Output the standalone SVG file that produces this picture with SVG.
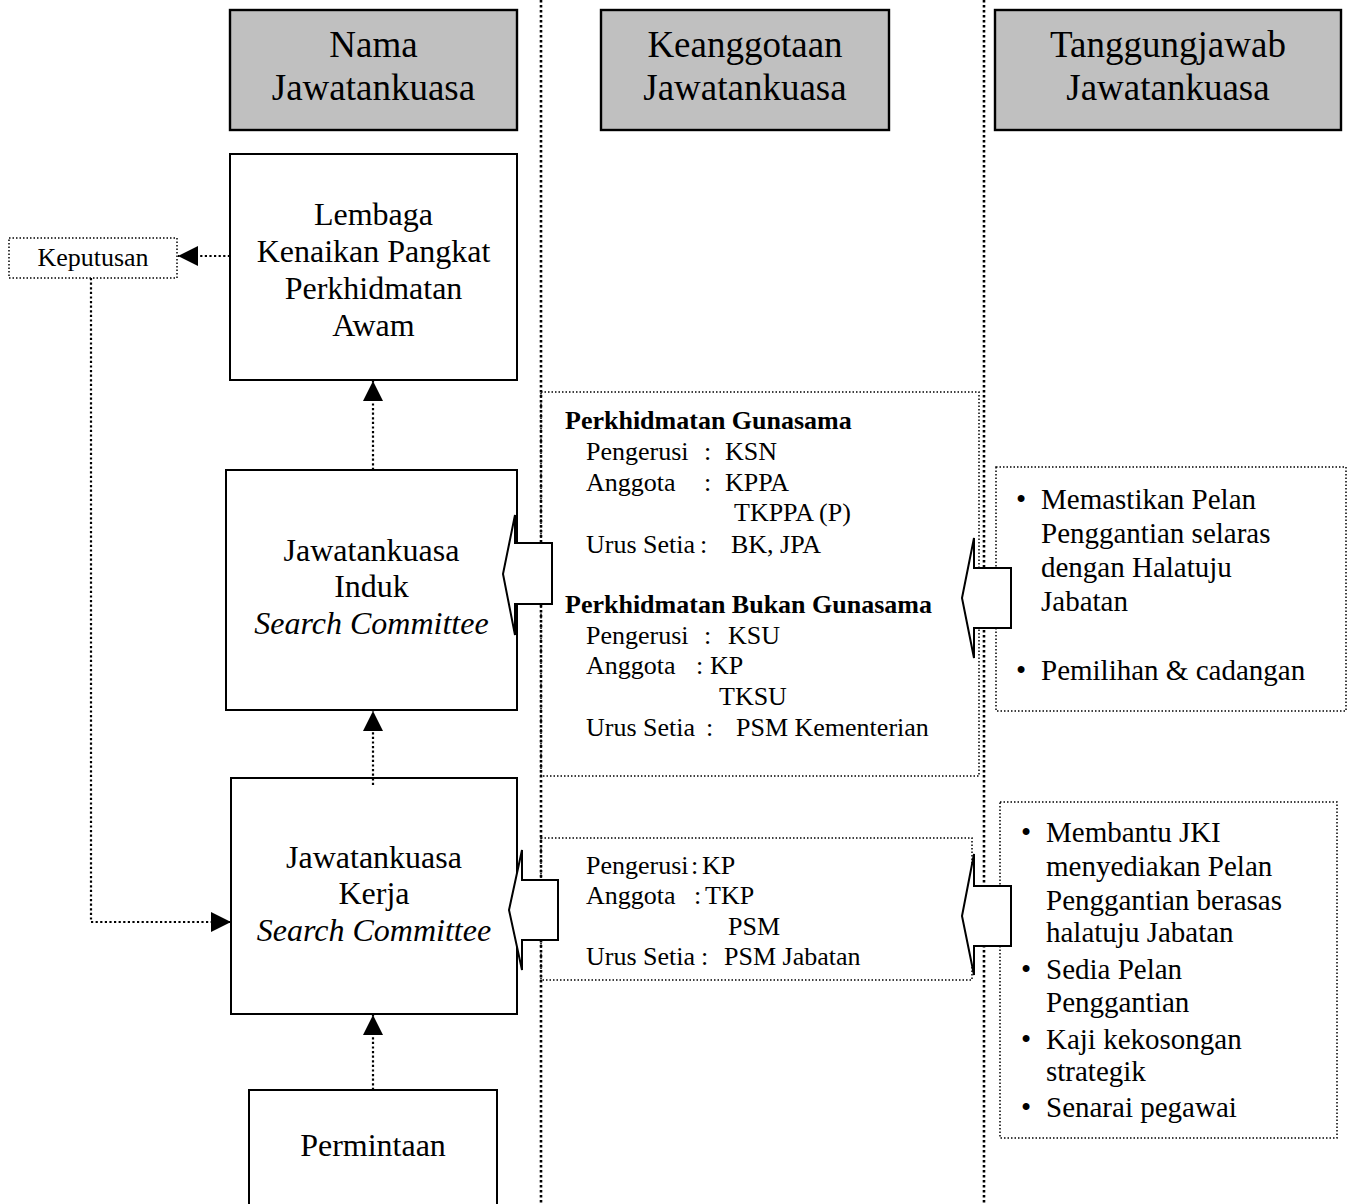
<svg xmlns="http://www.w3.org/2000/svg" width="1350" height="1204" viewBox="0 0 1350 1204">
<style>
text{font-family:"Liberation Serif","Times New Roman",serif;fill:#000}
.hd{font-size:37px;text-anchor:middle}
.bd{font-size:32px;text-anchor:middle}
.it{font-style:italic}
.md{font-size:26px}
.bo{font-weight:bold}
.rt{font-size:29px}
.bu{font-size:29px}
.hbox{fill:#c0c0c0;stroke:#000;stroke-width:2.4}
.box{fill:#fff;stroke:#000;stroke-width:2}
.div{fill:none;stroke:#000;stroke-width:2.6;stroke-dasharray:2.4 2.6}
.dbox{fill:none;stroke:#000;stroke-width:1.5;stroke-dasharray:1.5 2}
.con{fill:none;stroke:#000;stroke-width:2.2;stroke-dasharray:2.2 2.4}
.blk{fill:#fff;stroke:#000;stroke-width:2;stroke-linejoin:miter}
</style>
<defs>
<marker id="ah" viewBox="0 0 20 20" refX="20" refY="10" markerWidth="20" markerHeight="20" markerUnits="userSpaceOnUse" orient="auto">
<path d="M0,0 L20,10 L0,20 Z" fill="#000"/>
</marker>
</defs>
<rect width="1350" height="1204" fill="#fff"/>
<g id="dividers">
<line class="div" x1="541" y1="0" x2="541" y2="1204"/>
<line class="div" x1="984" y1="0" x2="984" y2="1204"/>
</g>
<g id="header-nama"><rect class="hbox" x="230" y="10" width="287" height="120"/><text class="hd" x="373.5" y="57">Nama</text><text class="hd" x="373.5" y="100">Jawatankuasa</text></g>
<g id="header-keanggotaan"><rect class="hbox" x="601" y="10" width="288" height="120"/><text class="hd" x="745" y="57">Keanggotaan</text><text class="hd" x="745" y="100">Jawatankuasa</text></g>
<g id="header-tanggungjawab"><rect class="hbox" x="995" y="10" width="346" height="120"/><text class="hd" x="1168" y="57">Tanggungjawab</text><text class="hd" x="1168" y="100">Jawatankuasa</text></g>
<g id="lembaga"><rect class="box" x="230" y="154" width="287" height="226"/>
<text class="bd" x="373.5" y="225">Lembaga</text><text class="bd" x="373.5" y="262">Kenaikan Pangkat</text><text class="bd" x="373.5" y="299">Perkhidmatan</text><text class="bd" x="373.5" y="336">Awam</text></g>
<g id="induk"><rect class="box" x="226" y="470" width="291" height="240"/>
<text class="bd" x="371.5" y="561">Jawatankuasa</text><text class="bd" x="371.5" y="597">Induk</text><text class="bd it" x="371.5" y="634">Search Committee</text></g>
<g id="kerja"><rect class="box" x="231" y="778" width="286" height="236"/>
<text class="bd" x="374" y="868">Jawatankuasa</text><text class="bd" x="374" y="904">Kerja</text><text class="bd it" x="374" y="941">Search Committee</text></g>
<g id="permintaan"><rect class="box" x="249" y="1090" width="248" height="130"/>
<text class="bd" x="373" y="1156">Permintaan</text></g>
<g id="keputusan"><rect class="dbox" x="9" y="238" width="168" height="40"/>
<text x="93" y="266" style="font-size:26px;text-anchor:middle">Keputusan</text></g>
<g id="connectors">
<line class="con" x1="230" y1="256" x2="178" y2="256" marker-end="url(#ah)"/>
<polyline class="con" points="91,278 91,922 231,922" marker-end="url(#ah)"/>
<line class="con" x1="373" y1="470" x2="373" y2="381" marker-end="url(#ah)"/>
<line class="con" x1="373" y1="785" x2="373" y2="711" marker-end="url(#ah)"/>
<line class="con" x1="373" y1="1090" x2="373" y2="1015" marker-end="url(#ah)"/>
</g>
<g id="anggota-box-1"><rect class="dbox" x="541" y="392" width="438" height="384"/>
<text class="md bo" x="565" y="429">Perkhidmatan Gunasama</text>
<text class="md" x="586" y="460">Pengerusi</text><text class="md" x="704" y="460">:</text><text class="md" x="725" y="460">KSN</text>
<text class="md" x="586" y="491">Anggota</text><text class="md" x="704" y="491">:</text><text class="md" x="725" y="491">KPPA</text>
<text class="md" x="734" y="521">TKPPA (P)</text>
<text class="md" x="586" y="553">Urus Setia</text><text class="md" x="700" y="553">:</text><text class="md" x="731" y="553">BK, JPA</text>
<text class="md bo" x="565" y="613">Perkhidmatan Bukan Gunasama</text>
<text class="md" x="586" y="644">Pengerusi</text><text class="md" x="704" y="644">:</text><text class="md" x="728" y="644">KSU</text>
<text class="md" x="586" y="674">Anggota</text><text class="md" x="696" y="674">:</text><text class="md" x="710" y="674">KP</text>
<text class="md" x="719" y="705">TKSU</text>
<text class="md" x="586" y="736">Urus Setia</text><text class="md" x="706" y="736">:</text><text class="md" x="736" y="736">PSM Kementerian</text>
</g>
<g id="anggota-box-2"><rect class="dbox" x="541" y="838" width="431" height="142"/>
<text class="md" x="586" y="874">Pengerusi</text><text class="md" x="691" y="874">:</text><text class="md" x="702" y="874">KP</text>
<text class="md" x="586" y="904">Anggota</text><text class="md" x="694" y="904">:</text><text class="md" x="705" y="904">TKP</text>
<text class="md" x="728" y="935">PSM</text>
<text class="md" x="586" y="965">Urus Setia</text><text class="md" x="701" y="965">:</text><text class="md" x="724" y="965">PSM Jabatan</text>
</g>
<g id="tanggung-box-1"><rect class="dbox" x="996" y="467" width="350" height="244"/>
<text class="bu" x="1016" y="509">•</text><text class="rt" x="1041" y="509">Memastikan Pelan</text>
<text class="rt" x="1041" y="543">Penggantian selaras</text>
<text class="rt" x="1041" y="577">dengan Halatuju</text>
<text class="rt" x="1041" y="611">Jabatan</text>
<text class="bu" x="1016" y="680">•</text><text class="rt" x="1041" y="680">Pemilihan &amp; cadangan</text>
</g>
<g id="tanggung-box-2"><rect class="dbox" x="1000" y="802" width="337" height="336"/>
<text class="bu" x="1021" y="842">•</text><text class="rt" x="1046" y="842">Membantu JKI</text>
<text class="rt" x="1046" y="876">menyediakan Pelan</text>
<text class="rt" x="1046" y="910">Penggantian berasas</text>
<text class="rt" x="1046" y="942">halatuju Jabatan</text>
<text class="bu" x="1021" y="979">•</text><text class="rt" x="1046" y="979">Sedia Pelan</text>
<text class="rt" x="1046" y="1012">Penggantian</text>
<text class="bu" x="1021" y="1049">•</text><text class="rt" x="1046" y="1049">Kaji kekosongan</text>
<text class="rt" x="1046" y="1081">strategik</text>
<text class="bu" x="1021" y="1117">•</text><text class="rt" x="1046" y="1117">Senarai pegawai</text>
</g>
<g id="block-arrows">
<path class="blk" d="M503,574 L515,515 L515,543 L552,543 L552,604 L515,604 L515,635 Z"/>
<path class="blk" d="M962,598 L974,538 L974,568 L1011,568 L1011,628 L974,628 L974,658 Z"/>
<path class="blk" d="M509,910 L522,850 L522,880 L558,880 L558,940 L522,940 L522,970 Z"/>
<path class="blk" d="M962,916 L974,854 L974,886 L1011,886 L1011,946 L974,946 L974,975 Z"/>
</g>
</svg>
